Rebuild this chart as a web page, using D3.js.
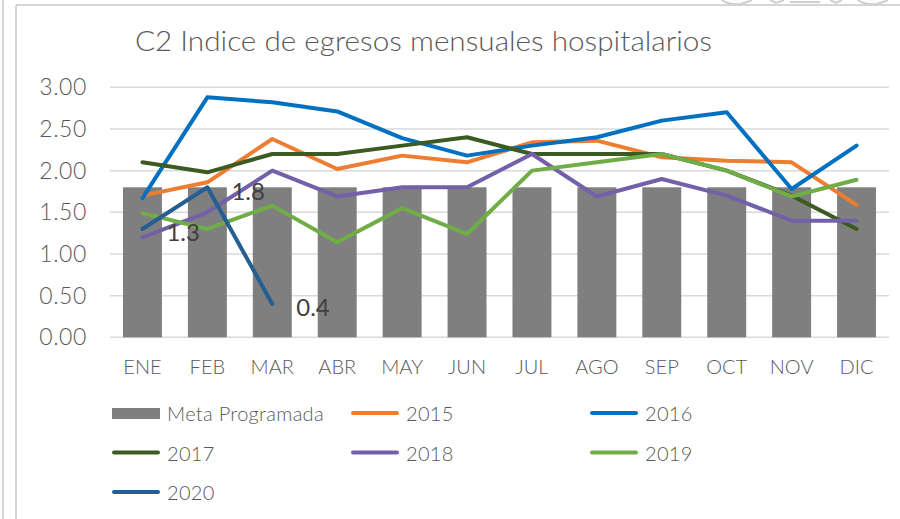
<!DOCTYPE html>
<html>
<head>
<meta charset="utf-8">
<script src="https://cdn.jsdelivr.net/npm/d3@7"></script>
<style>
  html, body { margin: 0; padding: 0; background: #fff; }
  svg { display: block; }
  text { font-family: Lato, "Open Sans", sans-serif; font-weight: 300; }
</style>
</head>
<body>
<svg id="chart" width="900" height="519"></svg>
<script>
// Monthly hospital discharge index, by year, against the programmed target
const months = ["ENE","FEB","MAR","ABR","MAY","JUN","JUL","AGO","SEP","OCT","NOV","DIC"];
const meta   = [1.8,1.8,1.8,1.8,1.8,1.8,1.8,1.8,1.8,1.8,1.8,1.8];
const y2015  = [1.70,1.86,2.38,2.02,2.18,2.10,2.34,2.36,2.16,2.12,2.10,1.59];
const y2016  = [1.67,2.88,2.82,2.71,2.39,2.18,2.30,2.40,2.60,2.70,1.78,2.30];
const y2017  = [2.10,1.98,2.20,2.20,2.30,2.40,2.20,2.20,2.20,2.00,1.70,1.30];
const y2018  = [1.20,1.50,2.00,1.69,1.80,1.80,2.20,1.69,1.90,1.70,1.40,1.40];
const y2019  = [1.49,1.30,1.58,1.14,1.55,1.24,2.00,2.10,2.20,2.00,1.69,1.89];
const y2020  = [1.3,1.8,0.4];
const yTicks = [0,0.5,1,1.5,2,2.5,3];
const seriesNames  = ["2015","2016","2017","2018","2019","2020"];
const seriesValues = [y2015,y2016,y2017,y2018,y2019,y2020];
const seriesColors = ["#ED7D31","#0070C0","#3B5B22","#7360A9","#70AD47","#255E91"];
const barName = "Meta Programada";
const barColor = "#7F7F7F";
const title = "C2 Indice de egresos mensuales hospitalarios";

const svg = d3.select("#chart");

// outer frame
svg.append("line").attr("x1",3).attr("x2",3).attr("y1",0).attr("y2",519)
  .attr("stroke","#d6d6d6").attr("stroke-width",2);
svg.append("line").attr("x1",16).attr("x2",16).attr("y1",5).attr("y2",519)
  .attr("stroke","#d6d6d6").attr("stroke-width",2);
svg.append("line").attr("x1",16).attr("x2",900).attr("y1",5).attr("y2",5)
  .attr("stroke","#d6d6d6").attr("stroke-width",2);
// emblem fragment at the top-right edge
const emb = svg.append("g").attr("fill","none").attr("stroke","#cfcfcf").attr("stroke-width",2);
emb.append("path").attr("d","M722,0 Q728,5 740,4 Q748,2 752,0");
emb.append("path").attr("d","M770,0 L776,3 L784,0 M790,2 L820,2 M830,0 L836,3 L842,0");
emb.append("path").attr("d","M858,0 Q864,5 876,4 Q884,2 888,0");

// title
svg.append("text").attr("x",135).attr("y",51)
  .attr("font-size",27).attr("fill","#595959")
  .attr("textLength",577).attr("lengthAdjust","spacingAndGlyphs")
  .text(title);

const x = d3.scaleBand().domain(months).range([110,889]).paddingInner(0.4).paddingOuter(0.2);
const y = d3.scaleLinear().domain([0,3]).range([337.3,87.3]);

// gridlines
svg.append("g").selectAll("line").data(yTicks).join("line")
  .attr("x1",110).attr("x2",889)
  .attr("y1",d=>y(d)).attr("y2",d=>y(d))
  .attr("stroke","#d9d9d9").attr("stroke-width",1.5);

// y axis labels
const yAxis = svg.append("g").attr("transform","translate(87,0)")
  .call(d3.axisLeft(y).tickValues(yTicks).tickFormat(d3.format(".2f")).tickSize(0).tickPadding(0));
yAxis.select(".domain").remove();
yAxis.selectAll("text").attr("font-size",23).attr("fill","#595959")
  .attr("font-family","Lato, sans-serif").attr("letter-spacing","0.6px");

// x axis labels
const xAxis = svg.append("g").attr("transform","translate(0,356)")
  .call(d3.axisBottom(x).tickSize(0).tickPadding(0));
xAxis.select(".domain").remove();
xAxis.selectAll("text").attr("font-size",20).attr("fill","#595959")
  .attr("font-family","Lato, sans-serif").attr("dy","0.9em");

// target bars
svg.append("g").selectAll("rect").data(meta).join("rect")
  .attr("x",(d,i)=>x(months[i])).attr("width",x.bandwidth())
  .attr("y",d=>y(d)).attr("height",d=>y(0)-y(d))
  .attr("fill",barColor);

// yearly lines
const line = d3.line().x((d,i)=>x(months[i])+x.bandwidth()/2).y(d=>y(d));
seriesValues.forEach((vals,k)=>{
  svg.append("path").datum(vals).attr("d",line)
    .attr("fill","none").attr("stroke",seriesColors[k])
    .attr("stroke-width",4).attr("stroke-linejoin","round").attr("stroke-linecap","round");
});

// value labels for 2020
svg.append("g").selectAll("text").data(y2020).join("text")
  .attr("x",(d,i)=>x(months[i])+x.bandwidth()/2+24)
  .attr("y",d=>y(d)+3)
  .attr("dominant-baseline","central")
  .attr("font-size",24).style("font-weight",400).attr("fill","#404040")
  .text(d=>d3.format(".1f")(d));

// legend
const legendItems = [{name:barName,color:barColor,bar:true}]
  .concat(seriesNames.map((n,k)=>({name:n,color:seriesColors[k],bar:false})));
const lg = svg.append("g");
legendItems.forEach((it,i)=>{
  const col = i % 3, row = Math.floor(i/3);
  const gx = 112 + col*239, gy = 413 + row*39.5;
  if (it.bar) {
    lg.append("rect").attr("x",gx).attr("y",gy-5).attr("width",48).attr("height",11).attr("fill",it.color);
  } else {
    lg.append("line").attr("x1",gx+2).attr("x2",gx+46).attr("y1",gy).attr("y2",gy)
      .attr("stroke",it.color).attr("stroke-width",4).attr("stroke-linecap","round");
  }
  lg.append("text").attr("x",gx+55).attr("y",gy).attr("dominant-baseline","central")
    .attr("font-size",20).attr("letter-spacing","0.3px").attr("fill","#595959").text(it.name);
});
</script>
</body>
</html>
